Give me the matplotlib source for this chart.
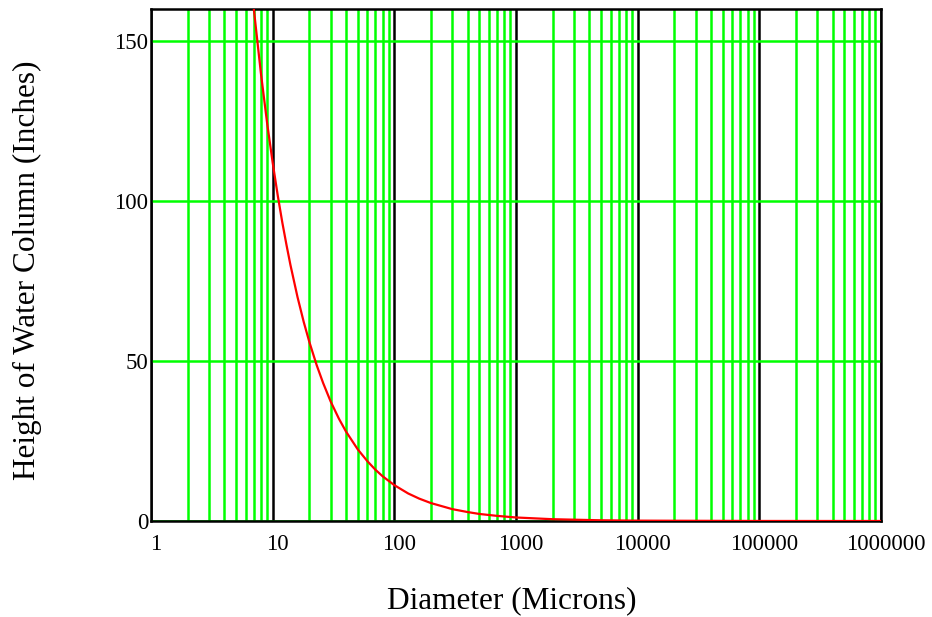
import matplotlib
matplotlib.use("Agg")
import matplotlib.pyplot as plt
import matplotlib.transforms as mtransforms
from matplotlib.ticker import LogLocator, FixedLocator, FuncFormatter, NullFormatter

# Data
diameter_microns = [7, 8, 9, 10, 11, 12, 13, 14, 16, 18, 20, 23, 26, 30, 35, 40, 50, 60, 70, 80,
                    100, 130, 160, 200, 300, 400, 500, 700, 1000, 2000, 5000, 10000, 100000, 1000000]
height_inches = [160, 140, 124.4, 112, 101.8, 93.3, 86.2, 80, 70, 62.2, 56, 48.7, 43.1, 37.3, 32, 28,
                 22.4, 18.7, 16, 14, 11.2, 8.6, 7, 5.6, 3.7, 2.8, 2.2, 1.6, 1.1, 0.56, 0.22, 0.11,
                 0.011, 0.0011]
x_ticks = [1, 10, 100, 1000, 10000, 100000, 1000000]
y_ticks = [0, 50, 100, 150]

plt.rcParams['font.family'] = ['Liberation Serif', 'DejaVu Serif']

fig = plt.figure(figsize=(9.32, 6.17), dpi=100)
ax = fig.add_axes([151/932, 1-521/617, 730/932, 512/617])

ax.set_xscale('log')
ax.set_xlim(1, 1e6)
ax.set_ylim(0, 160)

ax.plot(diameter_microns, height_inches, color='#ff0000', lw=1.6, zorder=3)

ax.xaxis.set_major_locator(FixedLocator(x_ticks))
ax.xaxis.set_minor_locator(LogLocator(base=10, subs=range(2, 10), numticks=20))
ax.xaxis.set_major_formatter(FuncFormatter(lambda v, p: f"{int(round(v))}"))
ax.xaxis.set_minor_formatter(NullFormatter())
ax.yaxis.set_major_locator(FixedLocator(y_ticks))

ax.xaxis.grid(True, which='minor', color='#00ff00', lw=1.8, zorder=1)
ax.xaxis.grid(True, which='major', color='black', lw=1.8, zorder=2)
ax.yaxis.grid(True, which='major', color='#00ff00', lw=1.8, zorder=1)
ax.set_axisbelow(True)

ax.tick_params(axis='both', which='both', length=0)
ax.tick_params(axis='x', pad=9, labelsize=16.5)
ax.tick_params(axis='y', pad=2, labelsize=16.5)

offset = mtransforms.ScaledTranslation(5/100, 0, fig.dpi_scale_trans)
for lbl in ax.get_xticklabels():
    lbl.set_transform(lbl.get_transform() + offset)

for s in ax.spines.values():
    s.set_linewidth(1.8)
    s.set_color('black')

ax.set_xlabel('Diameter (Microns)', fontsize=22.5)
ax.xaxis.label.set_va('center')
ax.xaxis.set_label_coords((512-151)/730, -(601-521)/512)

ax.set_ylabel('Height of Water Column (Inches)', fontsize=22.5)
ax.yaxis.label.set_va('center')
ax.yaxis.set_label_coords((27-151)/730, (521-270)/512)

fig.savefig('out.png', dpi=100)
